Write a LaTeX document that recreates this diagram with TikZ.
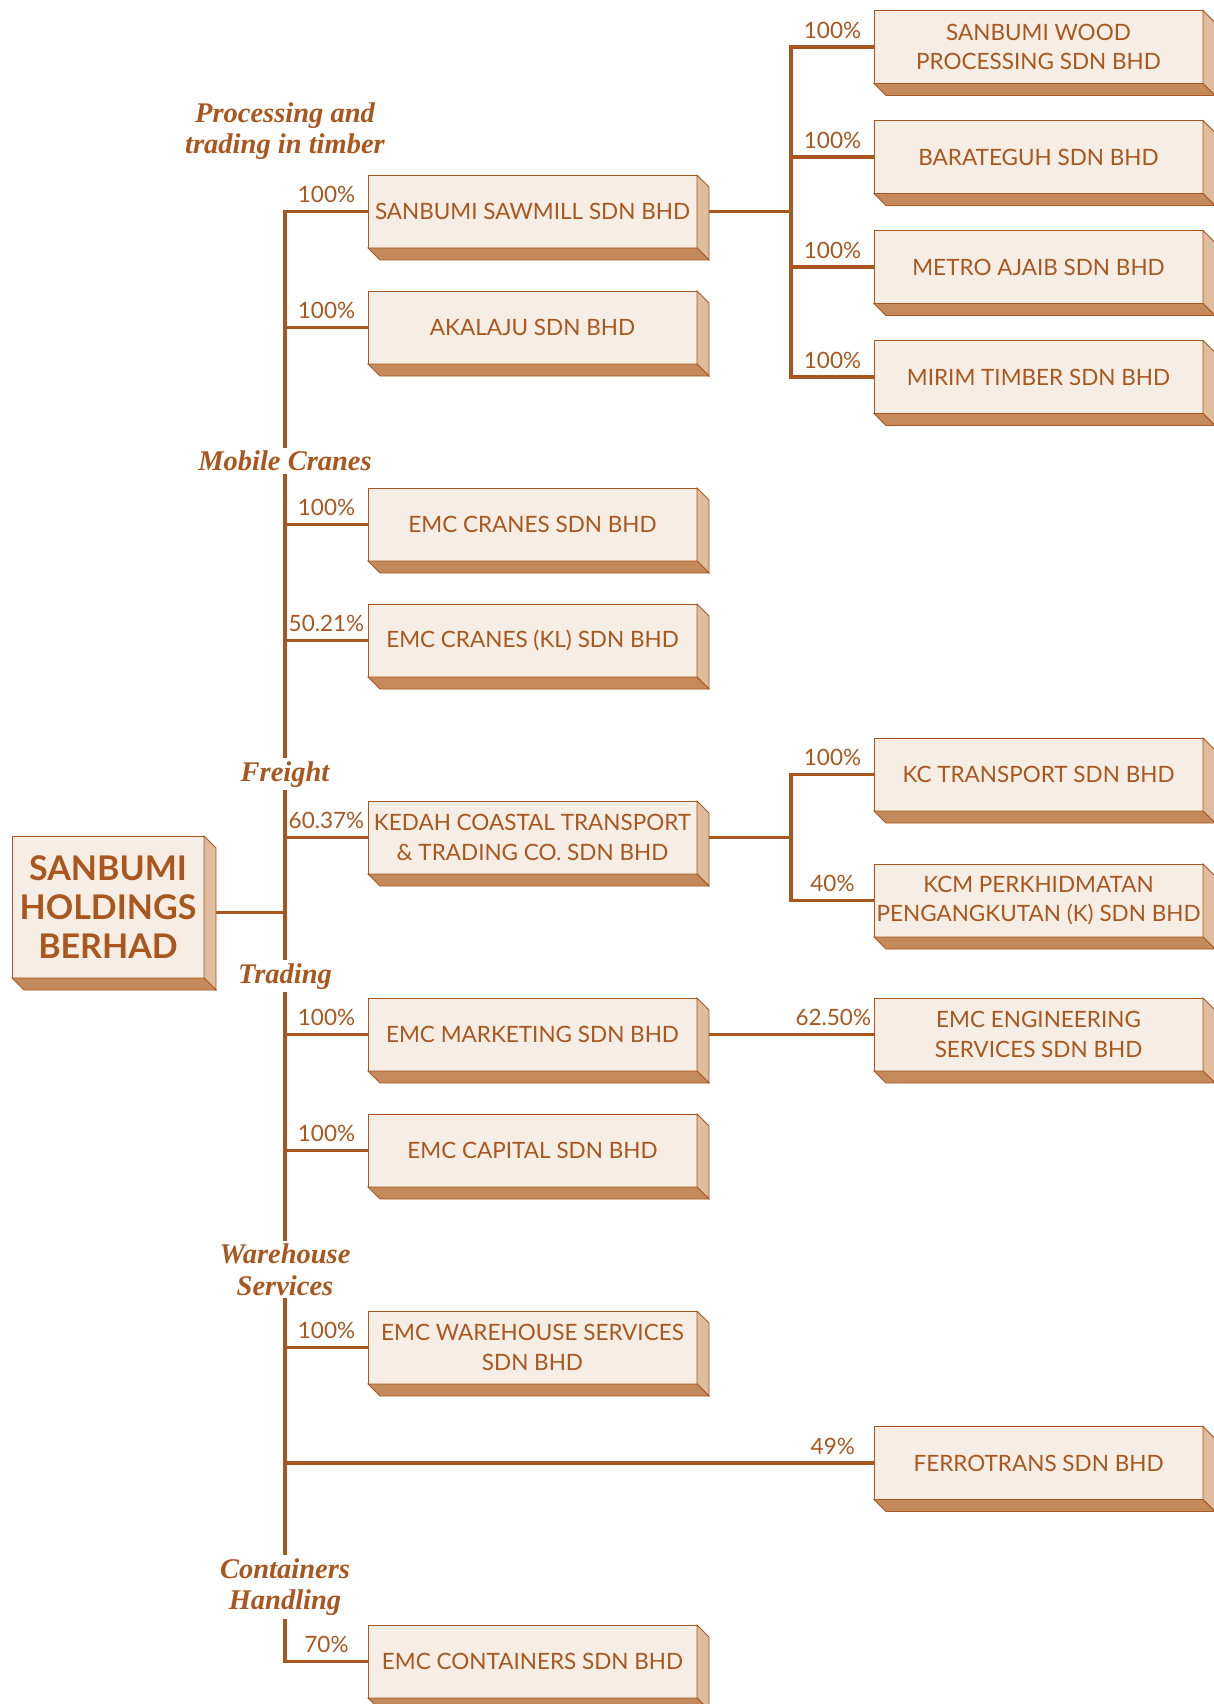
\documentclass[tikz,border=0pt]{standalone}
\usepackage{fontspec}
\setmainfont{Lato}
\newfontfamily\sectorfont{Liberation Serif}
\usetikzlibrary{positioning,calc}
\definecolor{woodline}{HTML}{A9571F}
\definecolor{woodfront}{HTML}{F6EDE4}
\definecolor{woodside}{HTML}{DFBC9B}
\definecolor{woodbottom}{HTML}{C58A5B}

\begin{document}
\begin{tikzpicture}[x=1pt,y=1pt,
    firm/.style={draw=woodline,line width=0.8pt,fill=woodfront,text=woodline,minimum width=329pt,minimum height=73pt,inner sep=0pt,outer sep=0pt,align=center,font=\fontsize{22.5}{29.3}\selectfont},
    parent/.style={firm,minimum width=192pt,minimum height=142pt,font=\fontsize{34}{38.6}\selectfont\bfseries},
    sector/.style={fill=white,text=woodline,align=center,inner sep=3pt,font=\sectorfont\fontsize{28.5}{31.5}\selectfont\bfseries\itshape},
    pct/.style={above=7pt,inner sep=0pt,text=woodline,font=\fontsize{22.5}{27}\selectfont},
    link/.style={draw=woodline,line width=3.3pt},
    sideface/.style={draw=woodline,line width=0.8pt,fill=woodside},
    bottomface/.style={draw=woodline,line width=0.8pt,fill=woodbottom}] %
    \useasboundingbox (0,0) rectangle (1214,-1704);
    % holding company and its subsidiaries
    \node[parent] (sanbumi) at (108,-907) {SANBUMI\\HOLDINGS\\BERHAD};
    \node[firm,anchor=north west] (sawmill) at (368,-175) {SANBUMI SAWMILL SDN BHD};
    \node[firm,below=43pt of sawmill] (akalaju) {AKALAJU SDN BHD};
    \node[firm,below=124pt of akalaju] (cranes) {EMC CRANES SDN BHD};
    \node[firm,below=43pt of cranes] (craneskl) {EMC CRANES (KL) SDN BHD};
    \node[firm,below=124pt of craneskl] (kedah) {KEDAH COASTAL TRANSPORT\\\& TRADING CO. SDN BHD};
    \node[firm,below=124pt of kedah] (marketing) {EMC MARKETING SDN BHD};
    \node[firm,below=43pt of marketing] (capital) {EMC CAPITAL SDN BHD};
    \node[firm,below=124pt of capital] (warehouse) {EMC WAREHOUSE SERVICES\\SDN BHD};
    \node[firm,below=241pt of warehouse] (containers) {EMC CONTAINERS SDN BHD};
    % second level
    \node[firm,right=177pt of sawmill,yshift=164.5pt] (wood) {SANBUMI WOOD\\PROCESSING SDN BHD};
    \node[firm,below=37pt of wood] (barateguh) {BARATEGUH SDN BHD};
    \node[firm,below=37pt of barateguh] (metro) {METRO AJAIB SDN BHD};
    \node[firm,below=37pt of metro] (mirim) {MIRIM TIMBER SDN BHD};
    \node[firm,right=177pt of kedah,yshift=63pt] (kct) {KC TRANSPORT SDN BHD};
    \node[firm,right=177pt of kedah,yshift=-63pt] (kcm) {KCM PERKHIDMATAN\\PENGANGKUTAN (K) SDN BHD};
    \node[firm,right=177pt of marketing] (engineering) {EMC ENGINEERING\\SERVICES SDN BHD};
    \node[firm,right=177pt of warehouse,yshift=-115.5pt] (ferrotrans) {FERROTRANS SDN BHD};
    \coordinate[left=83pt of sawmill.west] (trunk);
    \coordinate[right=94pt of sawmill.east] (timberfork);
    \coordinate[right=94pt of kedah.east] (freightfork);
    % connectors
    \draw[link] ([yshift=-5.5pt]sanbumi.east) -- ([yshift=-5.5pt]sanbumi.east -| trunk);
    \draw[link] (sawmill.west) -| node[pct,pos=.25]{100\%} (trunk |- containers.west) -- node[pct]{70\%} (containers.west);
    \draw[link] (trunk |- akalaju.west) -- node[pct]{100\%} (akalaju.west);
    \draw[link] (trunk |- cranes.west) -- node[pct]{100\%} (cranes.west);
    \draw[link] (trunk |- craneskl.west) -- node[pct]{50.21\%} (craneskl.west);
    \draw[link] (trunk |- kedah.west) -- node[pct]{60.37\%} (kedah.west);
    \draw[link] (trunk |- marketing.west) -- node[pct]{100\%} (marketing.west);
    \draw[link] (trunk |- capital.west) -- node[pct]{100\%} (capital.west);
    \draw[link] (trunk |- warehouse.west) -- node[pct]{100\%} (warehouse.west);
    \draw[link] (trunk |- ferrotrans.west) -- node[pct,pos=.93]{49\%} (ferrotrans.west);
    \draw[link] (sawmill.east) -- (timberfork);
    \draw[link] (wood.west) -| node[pct,pos=.25]{100\%} (timberfork |- mirim.west) -- node[pct]{100\%} (mirim.west);
    \draw[link] (timberfork |- barateguh.west) -- node[pct]{100\%} (barateguh.west);
    \draw[link] (timberfork |- metro.west) -- node[pct]{100\%} (metro.west);
    \draw[link] (kedah.east) -- (freightfork);
    \draw[link] (kct.west) -| node[pct,pos=.25]{100\%} (freightfork |- kcm.west) -- node[pct]{40\%} (kcm.west);
    \draw[link] (marketing.east) -- node[pct,pos=.77]{62.50\%} (engineering.west);
    % business sectors on the trunk
    \node[sector,anchor=base] (timber) at (trunk |- 0,-154) {Processing and\\trading in timber};
    \node[sector,anchor=base] (mobile) at (trunk |- 0,-470.5) {Mobile Cranes};
    \node[sector,anchor=base] (freight) at (trunk |- 0,-781) {Freight};
    \node[sector,anchor=base] (trading) at (trunk |- 0,-983) {Trading};
    \node[sector,anchor=base] (storage) at (trunk |- 0,-1295) {Warehouse\\Services};
    \node[sector,anchor=base] (handling) at (trunk |- 0,-1609.5) {Containers\\Handling};
    % box depth
    \foreach \n in {sanbumi,sawmill,akalaju,cranes,craneskl,kedah,marketing,capital,warehouse,containers,wood,barateguh,metro,mirim,kct,kcm,engineering,ferrotrans}{
      \filldraw[sideface] (\n.north east) -- ++(12pt,-12pt) -- ($(\n.south east)+(12pt,-12pt)$) -- (\n.south east) -- cycle;
      \filldraw[bottomface] (\n.south west) -- (\n.south east) -- ++(12pt,-12pt) -- ($(\n.south west)+(12pt,-12pt)$) -- cycle;
    }
\end{tikzpicture}
\end{document}
